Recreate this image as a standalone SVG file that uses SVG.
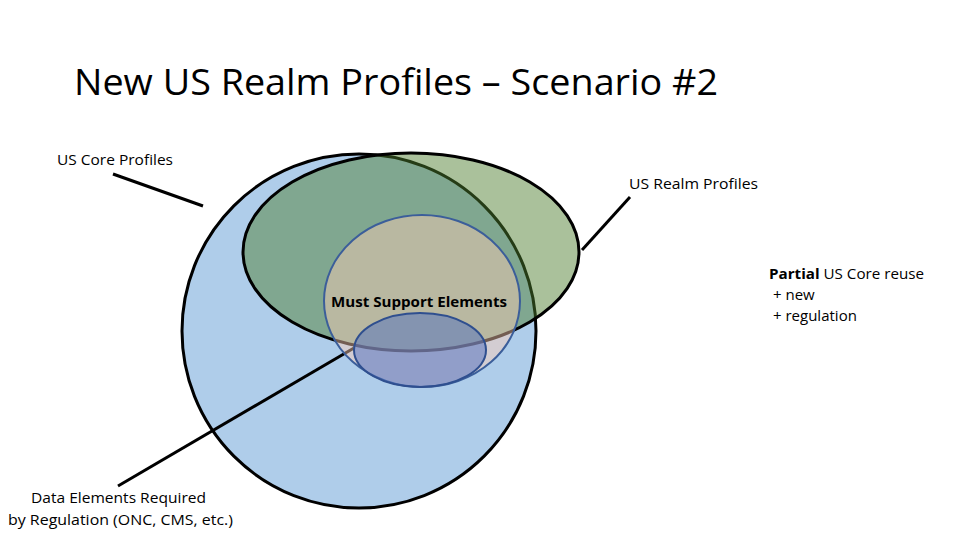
<svg xmlns="http://www.w3.org/2000/svg" width="960" height="540" viewBox="0 0 960 540">
<style>
text{font-family:"Open Sans","Liberation Sans",sans-serif;fill:#000}
.lbl{font-size:15px}
.ln{stroke:#000;stroke-width:3;fill:none}
</style>
<rect width="960" height="540" fill="#fff"/>
<text x="74" y="95" font-size="36" textLength="644" lengthAdjust="spacingAndGlyphs" style="font-family:'Open Sans','Liberation Sans',sans-serif">New US Realm Profiles – Scenario #2</text>
<g id="us-core">
<circle cx="359" cy="331" r="177" fill="#AFCDEA" stroke="#000" stroke-width="3"/>
</g>
<g id="connectors">
<line class="ln" x1="113" y1="174" x2="203" y2="206"/>
<line class="ln" x1="630" y1="197" x2="582" y2="250"/>
<line class="ln" x1="118" y1="486" x2="354" y2="348"/>
</g>
<g id="us-realm">
<ellipse cx="411" cy="252" rx="168" ry="99" fill="#4E7D2E" fill-opacity="0.48" stroke="#000" stroke-width="3"/>
</g>
<g id="must-support">
<ellipse cx="422" cy="301" rx="98" ry="86" fill="#FFCEB5" fill-opacity="0.45" stroke="#3B5E9A" stroke-width="2"/>
<text x="419" y="307" font-size="14" font-weight="bold" text-anchor="middle" textLength="176" lengthAdjust="spacingAndGlyphs">Must Support Elements</text>
</g>
<g id="regulation">
<ellipse cx="420" cy="350" rx="66" ry="37" fill="#4F6FC0" fill-opacity="0.5" stroke="#2F4F8F" stroke-width="2"/>
</g>
<g id="labels">
<text class="lbl" x="57" y="165" textLength="116" lengthAdjust="spacingAndGlyphs">US Core Profiles</text>
<text class="lbl" x="629" y="189" textLength="129" lengthAdjust="spacingAndGlyphs">US Realm Profiles</text>
<text class="lbl" x="769" y="279" textLength="155" lengthAdjust="spacingAndGlyphs"><tspan font-weight="bold">Partial</tspan> US Core reuse</text>
<text class="lbl" x="773" y="300">+ new</text>
<text class="lbl" x="773" y="321">+ regulation</text>
<text class="lbl" x="31" y="503" textLength="175" lengthAdjust="spacingAndGlyphs">Data Elements Required</text>
<text class="lbl" x="8" y="525" textLength="225" lengthAdjust="spacingAndGlyphs">by Regulation (ONC, CMS, etc.)</text>
</g>
</svg>
